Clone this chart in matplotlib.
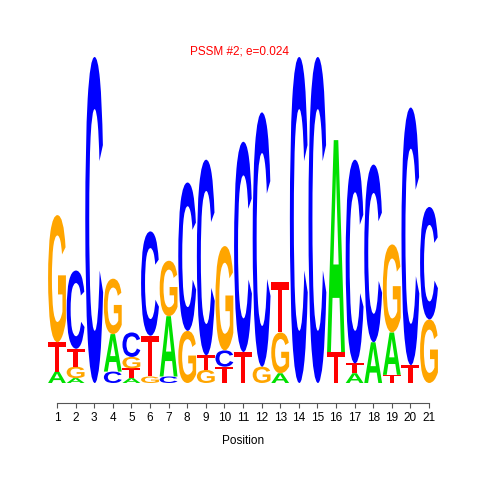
import matplotlib
matplotlib.use("Agg")
import matplotlib.pyplot as plt
from matplotlib.textpath import TextPath
from matplotlib.patches import PathPatch
from matplotlib.font_manager import FontProperties
from matplotlib.transforms import Affine2D

# letter stacks for each position, bottom to top, heights in bits
positions = list(range(1, 22))
letters = ["ATG", "AGTC", "C", "CAG", "ATGC", "GTC", "CAG", "GC", "GTC", "TCG",
           "TC", "GC", "AGT", "C", "C", "TA", "ATC", "AC", "TAG", "TC", "GC"]
heights = [
    [0.07, 0.18, 0.78],
    [0.03, 0.07, 0.11, 0.48],
    [2.0],
    [0.07, 0.23, 0.34],
    [0.03, 0.06, 0.07, 0.15],
    [0.04, 0.25, 0.64],
    [0.04, 0.37, 0.34],
    [0.32, 0.91],
    [0.08, 0.09, 1.20],
    [0.10, 0.10, 0.64],
    [0.19, 1.29],
    [0.10, 1.56],
    [0.06, 0.25, 0.31],
    [2.0],
    [2.0],
    [0.19, 1.30],
    [0.06, 0.06, 1.25],
    [0.25, 1.09],
    [0.05, 0.26, 0.54],
    [0.11, 1.58],
    [0.39, 0.69],
]
colors = {"A": "#00E000", "C": "#0000FF", "G": "#FFA500", "T": "#FF0000"}
title = "PSSM #2; e=0.024"

plt.rcParams["font.family"] = ["Liberation Sans", "DejaVu Sans"]
fp = FontProperties(family="Liberation Sans", weight="bold")

fig = plt.figure(figsize=(4.8, 4.8), dpi=100)
ax = fig.add_axes([47.7 / 480, 1 - 383 / 480, 390.6 / 480, 326 / 480])


def draw_letter(ch, x, y0, h, w=0.96):
    path = TextPath((0, 0), ch, size=1, prop=fp)
    ext = path.get_extents()
    tr = (Affine2D().translate(-ext.x0, -ext.y0)
          .scale(w / ext.width, h / ext.height)
          .translate(x - w / 2, y0))
    ax.add_patch(PathPatch(tr.transform_path(path), color=colors[ch], lw=0))


for pos, seq, hs in zip(positions, letters, heights):
    y = 0
    for ch, h in zip(seq, hs):
        draw_letter(ch, pos, y, h)
        y += h

ax.set_xlim(0.5, 21.5)
ax.set_ylim(0, 2)
for s in ["left", "top", "right"]:
    ax.spines[s].set_visible(False)
ax.spines["bottom"].set_position(("outward", 14.4))
ax.spines["bottom"].set_bounds(1, 21)
ax.spines["bottom"].set_color("#555555")
ax.set_yticks([])
ax.set_xticks(positions)
ax.tick_params(axis="x", direction="out", length=3.6, color="#555555",
               labelsize=8.5, pad=3)
ax.set_xlabel("Position", fontsize=8.5, labelpad=8)

fig.text(0.5, 1 - 52 / 480, title, color="red", fontsize=8.5,
         ha="center", va="center")

fig.savefig("out.png", dpi=100)
